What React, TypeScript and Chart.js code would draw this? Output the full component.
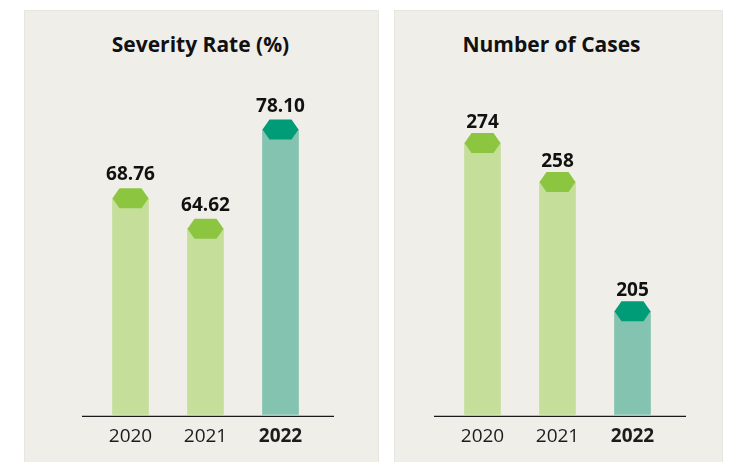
import React, { useEffect, useRef } from "react";
import { Chart, registerables } from "chart.js";

Chart.register(...registerables);

const years = ["2020", "2021", "2022"];
const severityRate = [68.76, 64.62, 78.1];
const severityLabels = ["68.76", "64.62", "78.10"];
const caseCounts = [274, 258, 205];
const caseLabels = ["274", "258", "205"];
const boldYearIndex = 2;
const barColors = ["#c5df9b", "#c5df9b", "#85c3b1"];
const capColors = ["#8cc53f", "#8cc53f", "#009b77"];

const FONT = "'Open Sans', 'DejaVu Sans', sans-serif";

const capPlugin = {
  id: "caps",
  afterDatasetsDraw(chart: any, _args: any, opts: any) {
    const ctx = chart.ctx;
    const meta = chart.getDatasetMeta(0);
    const labels: string[] = opts.labels || [];
    const gap: number = opts.gap ?? 8;
    meta.data.forEach((bar: any, i: number) => {
      const { x, y, width } = bar.getProps(["x", "y", "width"], true);
      const hw = width / 2;
      const inset = 7;
      const hh = 10;
      ctx.save();
      ctx.fillStyle = capColors[i];
      ctx.beginPath();
      ctx.moveTo(x - hw, y);
      ctx.lineTo(x - hw + inset, y - hh);
      ctx.lineTo(x + hw - inset, y - hh);
      ctx.lineTo(x + hw, y);
      ctx.lineTo(x + hw - inset, y + hh);
      ctx.lineTo(x - hw + inset, y + hh);
      ctx.closePath();
      ctx.fill();
      ctx.fillStyle = "#111111";
      ctx.font = `bold 19px ${FONT}`;
      ctx.textAlign = "center";
      ctx.textBaseline = "alphabetic";
      ctx.fillText(labels[i], x, y - hh - gap);
      ctx.restore();
    });
    const { left, right, bottom } = chart.chartArea;
    ctx.save();
    ctx.strokeStyle = "#1a1a1a";
    ctx.lineWidth = 1.3;
    ctx.beginPath();
    ctx.moveTo(left - 11, bottom + 1.5);
    ctx.lineTo(right + 16, bottom + 1.5);
    ctx.stroke();
    ctx.restore();
  },
};

type PanelProps = {
  left: number;
  width: number;
  title: string;
  titleCenter: number;
  values: number[];
  valueLabels: string[];
  yMin: number;
  yMax: number;
  padLeft: number;
  padRight: number;
  gap: number;
};

function Panel(p: PanelProps) {
  const ref = useRef<HTMLCanvasElement | null>(null);
  const height = 452;
  useEffect(() => {
    if (!ref.current) return;
    const chart = new Chart(ref.current, {
      type: "bar",
      data: {
        labels: years,
        datasets: [
          {
            data: p.values,
            backgroundColor: barColors,
            borderWidth: 0,
            barThickness: 36,
          },
        ],
      },
      options: {
        responsive: false,
        animation: false,
        devicePixelRatio: 1,
        layout: {
          padding: { top: 60, left: p.padLeft, right: p.padRight, bottom: 4.4 },
        },
        plugins: {
          legend: { display: false },
          tooltip: { enabled: false },
          title: { display: false },
          caps: { labels: p.valueLabels, gap: p.gap },
        } as any,
        scales: {
          x: {
            grid: { display: false, drawTicks: false },
            border: { display: false },
            ticks: {
              padding: 10,
              color: "#1c1c1c",
              font: (c: any) => ({
                family: FONT,
                size: 19,
                weight: c.index === boldYearIndex ? "bold" : "normal",
              }),
            },
          },
          y: { display: false, min: p.yMin, max: p.yMax },
        },
      },
      plugins: [capPlugin],
    });
    return () => chart.destroy();
  }, []);
  return (
    <div
      style={{
        position: "absolute",
        left: p.left,
        top: 10,
        width: p.width,
        height: height + 10,
        background: "#f0eee8",
        boxShadow: "inset 0 0 0 1px #e7e5e0",
      }}
    >
      <div
        style={{
          position: "absolute",
          left: 0,
          top: 20,
          width: p.titleCenter * 2,
          textAlign: "center",
          font: `bold 21px ${FONT}`,
          lineHeight: "28px",
          color: "#111111",
          whiteSpace: "nowrap",
        }}
      >
        {p.title}
      </div>
      <canvas
        ref={ref}
        width={p.width}
        height={height}
        style={{ position: "absolute", left: 0, top: 0, width: p.width, height }}
      />
    </div>
  );
}

export default function App() {
  return (
    <div style={{ position: "absolute", left: 0, top: 0, width: 729, height: 462, background: "#ffffff", overflow: "hidden" }}>
      <Panel
        left={24}
        width={355}
        title="Severity Rate (%)"
        titleCenter={176.5}
        values={severityRate}
        valueLabels={severityLabels}
        yMin={39.3}
        yMax={86.2}
        padLeft={69}
        padRight={61}
        gap={8}
      />
      <Panel
        left={394}
        width={329}
        title="Number of Cases"
        titleCenter={157.5}
        values={caseCounts}
        valueLabels={caseLabels}
        yMin={162.5}
        yMax={304}
        padLeft={51}
        padRight={53}
        gap={5}
      />
    </div>
  );
}
